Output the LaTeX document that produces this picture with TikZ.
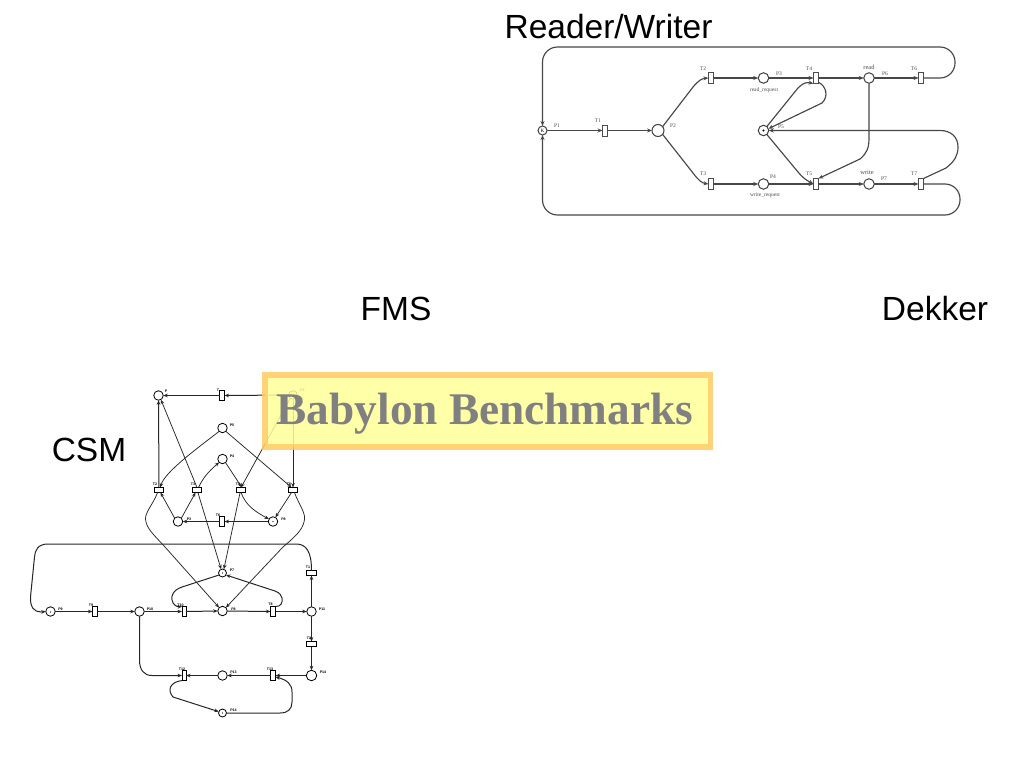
\documentclass[tikz,border=0pt]{standalone}
\usepackage{fontspec}
\setmainfont{Liberation Sans}
\newfontfamily\serifb{Liberation Serif}
\usetikzlibrary{arrows.meta}
\definecolor{boxfill}{HTML}{FFFF99}
\definecolor{boxline}{HTML}{FFCC66}
\definecolor{titlegrey}{HTML}{808080}
\tikzset{
  x=1pt,y=-1pt,
  placeA/.style={circle,draw=black!75,fill=white,line width=1pt,minimum size=10.5pt,inner sep=0pt,outer sep=0pt},
  transA/.style={rectangle,draw=black!70,fill=white,line width=.9pt,minimum width=5pt,minimum height=11pt,inner sep=0pt,outer sep=0pt},
  arcA/.style={draw=black!72,line width=1.15pt,-{Stealth[length=5pt,width=4pt]}},
  tagA/.style={font=\serifb\fontsize{5.5}{6}\selectfont,text=black!70,inner sep=0pt},
  placeB/.style={circle,draw=black,fill=white,line width=.8pt,minimum size=9.5pt,inner sep=0pt,outer sep=0pt},
  transB/.style={rectangle,draw=black,fill=white,line width=.8pt,minimum width=5pt,minimum height=10pt,inner sep=0pt,outer sep=0pt},
  transH/.style={rectangle,draw=black,fill=white,line width=.8pt,minimum width=10pt,minimum height=5pt,inner sep=0pt,outer sep=0pt},
  arcB/.style={draw=black!85,line width=1pt,-{Stealth[length=4.5pt,width=3.6pt]}},
  thinB/.style={draw=black!85,line width=.75pt,-{Stealth[length=4.5pt,width=3.6pt]}},
  tagB/.style={font=\bfseries\fontsize{3.6}{4}\selectfont,text=black,inner sep=0pt},
  heading/.style={font=\fontsize{33.5}{35}\selectfont,text=black,inner sep=0pt},
  dotmark/.style={circle,fill=black,inner sep=0pt,minimum size=2.2pt}
}
\begin{document}
\begin{tikzpicture}
\useasboundingbox (0,0) rectangle (1024,768);

% ---------- Reader/Writer net
\node[placeA,minimum size=9pt] (p1) at (542.5,130.5) {\serifb\fontsize{5}{5}\selectfont K};
\node[transA] (t1) at (605,130.5) {};
\node[placeA,minimum size=12pt] (p2) at (658,130.5) {};
\node[transA] (t2) at (711,78) {};
\node[transA] (t3) at (711,184) {};
\node[placeA] (p3) at (763.5,78) {};
\node[placeA] (p4) at (763.5,184) {};
\node[placeA] (p5) at (763.5,130.5) {};
\node[dotmark] (p5dot) at (p5) {};
\node[transA] (t4) at (816,78) {};
\node[transA] (t5) at (816,184) {};
\node[placeA] (p6) at (869,78) {};
\node[placeA] (p7) at (869,184) {};
\node[transA] (t6) at (921,78) {};
\node[transA] (t7) at (921,184) {};

\draw[arcA] (p1.east) -- (t1.west);
\draw[arcA] (t1.east) -- (p2.west);
\draw[arcA] (p2.40) -- (693,87) .. controls (699,80) and (702,78.5) .. (t2.west);
\draw[arcA] (p2.-40) -- (693,173) .. controls (699,181) and (702,183) .. (t3.west);
\draw[arcA] (t2.east) -- (p3.west);
\draw[arcA] (t3.east) -- (p4.west);
\draw[arcA] (p3.east) -- (t4.west);
\draw[arcA] (p4.east) -- (t5.west);
\draw[arcA] (t4.east) -- (p6.west);
\draw[arcA] (t5.east) -- (p7.west);
\draw[arcA] (p6.east) -- (t6.west);
\draw[arcA] (p7.east) -- (t7.west);
\draw[arcA,rounded corners=15pt] (t6.east) -- (955,78) -- (955,47) -- (542.5,47) -- (p1.north);
\draw[arcA,rounded corners=15pt] (t7.east) -- (960,184) -- (960,215) -- (542.5,215) -- (p1.south);
\draw[arcA] (t7.north east) -- (946,168) .. controls (955,161) and (958,155) .. (958,147) .. controls (958,137) and (951,130.5) .. (940,130.5) -- (p5.east);
\draw[arcA] (p6.south) -- (869,138) .. controls (869,148) and (867,153) .. (860,159) -- (t5.north east);
\draw[arcA] (t4.-60) .. controls (826,86) and (829,96) .. (822,103) -- (p5.20);
\draw[arcA] (p5.50) -- (798,88) .. controls (803,83) and (806,82) .. (t4.south west);
\draw[arcA] (p5.-50) -- (798,172) .. controls (803,178) and (806,180) .. (t5.west);

\node[tagA] (lp1) at (557,126) {P1};
\node[tagA] (lt1) at (598,121) {T1};
\node[tagA] (lp2) at (673,126) {P2};
\node[tagA] (lt2) at (703,69) {T2};
\node[tagA] (lt3) at (703,174) {T3};
\node[tagA] (lp3) at (779,74) {P3};
\node[tagA] (lp4) at (773,177) {P4};
\node[tagA] (lp5) at (781,127) {P5};
\node[tagA] (lrr) at (764,90) {read\_request};
\node[tagA] (lwr) at (765,195) {write\_request};
\node[tagA] (lt4) at (809,69) {T4};
\node[tagA] (lt5) at (809,174) {T5};
\node[tagA,font=\serifb\fontsize{6.5}{7}\selectfont] (lread) at (869,67) {read};
\node[tagA,font=\serifb\fontsize{6.5}{7}\selectfont] (lwrite) at (867,172) {write};
\node[tagA] (lp6) at (885,74) {P6};
\node[tagA] (lp7) at (884,179) {P7};
\node[tagA] (lt6) at (914,69) {T6};
\node[tagA] (lt7) at (914,174) {T7};

% ---------- CSM net
\node[placeB] (a) at (158.5,395.5) {};
\node[transB] (ta) at (222,395.5) {};
\node[placeB,minimum size=8.5pt] (b) at (293,395) {};
\node[placeB] (c) at (222.5,428) {};
\node[placeB] (d) at (222.5,459) {};
\node[transH,minimum width=9pt] (e1) at (159,490) {};
\node[transH,minimum width=9pt] (e2) at (197,490) {};
\node[transH,minimum width=9pt] (e3) at (241,490) {};
\node[transH,minimum width=9pt] (e4) at (293,490) {};
\node[placeB] (f) at (178,521.5) {};
\node[placeB] (g) at (273,521.5) {};
\node[dotmark,minimum size=1.4pt] (gdot) at (g) {};
\node[transB] (tf) at (222,521.5) {};

\node[placeB,minimum size=8pt] (h) at (222.5,573) {};
\node[dotmark,minimum size=1.4pt] (hdot) at (h) {};
\node[placeB] (i) at (222.5,611) {};
\node[placeB] (j) at (50.5,611.5) {};
\node[dotmark,minimum size=1.4pt] (jdot) at (50.5,612) {};
\node[transB] (tj) at (95,611.5) {};
\node[placeB] (k) at (139.5,611.5) {};
\node[transB,minimum width=4pt] (tk) at (184,611.5) {};
\node[transB] (tl) at (273,611.5) {};
\node[placeB] (l) at (311.5,611.5) {};
\node[transH] (tu) at (311.5,573) {};
\node[transH] (tv) at (311.5,644) {};
\node[placeB,minimum size=10.5pt] (m) at (311.5,675.5) {};
\node[transB] (tm) at (273,675.5) {};
\node[placeB] (n) at (222.5,675.5) {};
\node[transB,minimum width=4pt] (tn) at (184,675.5) {};
\node[placeB,minimum size=8pt] (o) at (222.5,713) {};
\node[dotmark,minimum size=1.4pt] (odot) at (o) {};

\draw[arcB] (b.west) -- (ta.east);
\draw[arcB] (ta.west) -- (a.east);
\draw[arcB] (e1.north) -- (a.south);
\draw[thinB] (e2.north) -- (a.-60);
\draw[arcB] (b.south) -- (e4.north);
\draw[thinB] (b.-130) -- (e3.north);
\draw[thinB] (c.-135) .. controls (195,450) and (165,472) .. (e1.65);
\draw[thinB] (c.-45) -- (e4.120);
\draw[thinB] (e2.60) .. controls (203,478) and (208,472) .. (d.-135);
\draw[thinB] (d.-50) -- (e3.70);
\draw[thinB] (e3.south) .. controls (246,506) and (256,512) .. (g.150);
\draw[thinB] (e4.-120) -- (g.60);
\draw[thinB] (f.135) -- (e1.-60);
\draw[thinB] (f.45) -- (e2.-120);
\draw[arcB] (g.west) -- (tf.east);
\draw[arcB] (tf.west) -- (f.east);
\draw[thinB] (e1.-120) .. controls (153,505) and (143,514) .. (146,522) .. controls (148,530) and (155,536) .. (165,547) -- (i.135);
\draw[thinB] (e4.-60) .. controls (299,505) and (307,514) .. (304,522) .. controls (302,530) and (296,536) .. (283,547) -- (i.45);
\draw[thinB] (e2.-70) -- (h.110);
\draw[thinB] (e3.-110) -- (h.70);

\draw[arcB] (j.east) -- (tj.west);
\draw[arcB] (tj.east) -- (k.west);
\draw[arcB] (k.east) -- (tk.west);
\draw[arcB] (tk.east) -- (i.west);
\draw[arcB] (i.east) -- (tl.west);
\draw[arcB] (tl.east) -- (l.west);
\draw[arcB] (l.north) -- (tu.south);
\draw[arcB] (l.south) -- (tv.north);
\draw[arcB] (tv.south) -- (m.north);
\draw[arcB] (m.west) -- (tm.east);
\draw[arcB] (tm.west) -- (n.east);
\draw[arcB] (n.west) -- (tn.east);
\draw[arcB] (tu.north) .. controls (311.5,551) and (306,544) .. (296,544) -- (48,544) .. controls (38,544) and (35,550) .. (34.5,557) -- (30.5,597) .. controls (30,607) and (34,612) .. (41,612) -- (j.west);
\draw[arcB] (k.south) -- (139.5,660) .. controls (139.5,670) and (144,675.5) .. (152,675.5) -- (tn.west);
\draw[arcB] (tn.south west) .. controls (170,682) and (167,690) .. (173,697) -- (o.160);
\draw[arcB] (o.east) -- (280,713) .. controls (288,713) and (292,709) .. (292,702) -- (292,692) .. controls (292,684) and (287,680) .. (tm.-30);
\draw[arcB] (h.-150) -- (182,587) .. controls (173,590) and (171,596) .. (172,600) .. controls (173,605) and (177,607) .. (tk.north west);
\draw[arcB] (tl.north east) .. controls (281,607) and (283,602) .. (282,598) .. controls (281,595) and (280,593) .. (275,591) -- (h.-30);

\node[tagB] (a1) at (166,391.5) {P};
\node[tagB] (a2) at (218,390) {T};
\node[tagB] (a3) at (302.5,390.5) {P2};
\node[tagB] (a4) at (232,425) {P5};
\node[tagB] (a5) at (232,456) {P4};
\node[tagB] (a6) at (155,484) {T2};
\node[tagB] (a7) at (193,484) {T3};
\node[tagB] (a8) at (238,484) {T4};
\node[tagB] (a9) at (289,484) {T5};
\node[tagB] (a10) at (189,519) {P3};
\node[tagB] (a11) at (283.5,519) {P8};
\node[tagB] (a12) at (218,515) {T6};
\node[tagB] (a13) at (232,570) {P7};
\node[tagB] (a14) at (233.5,609) {P8};
\node[tagB] (a15) at (60.5,609) {P9};
\node[tagB] (a16) at (91,605) {T9};
\node[tagB] (a17) at (150,609) {P10};
\node[tagB] (a18) at (180.5,605) {T10};
\node[tagB] (a19) at (270.5,604.5) {T8};
\node[tagB] (a20) at (322,609) {P11};
\node[tagB] (a21) at (308,567) {T1};
\node[tagB] (a22) at (309,638) {T2};
\node[tagB] (a23) at (323,672.5) {P14};
\node[tagB] (a24) at (270,669) {T13};
\node[tagB] (a25) at (233.5,672.5) {P13};
\node[tagB] (a26) at (182,669) {T12};
\node[tagB] (a27) at (233.5,710) {P14};

% ---------- Title box over the net
\node[rectangle,draw=boxline,fill=boxfill,line width=5.5pt,opacity=.86,minimum width=445.5pt,minimum height=72pt,inner sep=0pt] (box) at (487.5,411) {};
\node[font=\serifb\bfseries\fontsize{45.3}{47}\selectfont,text=titlegrey,inner sep=0pt,anchor=base] (title) at (485,424) {Babylon Benchmarks};

% ---------- Headings
\node[heading] (rw) at (608.5,26.5) {Reader/Writer};
\node[heading] (fms) at (396,308.5) {FMS};
\node[heading] (dek) at (935,308.5) {Dekker};
\node[heading] (csm) at (89,449.5) {CSM};
\end{tikzpicture}
\end{document}
